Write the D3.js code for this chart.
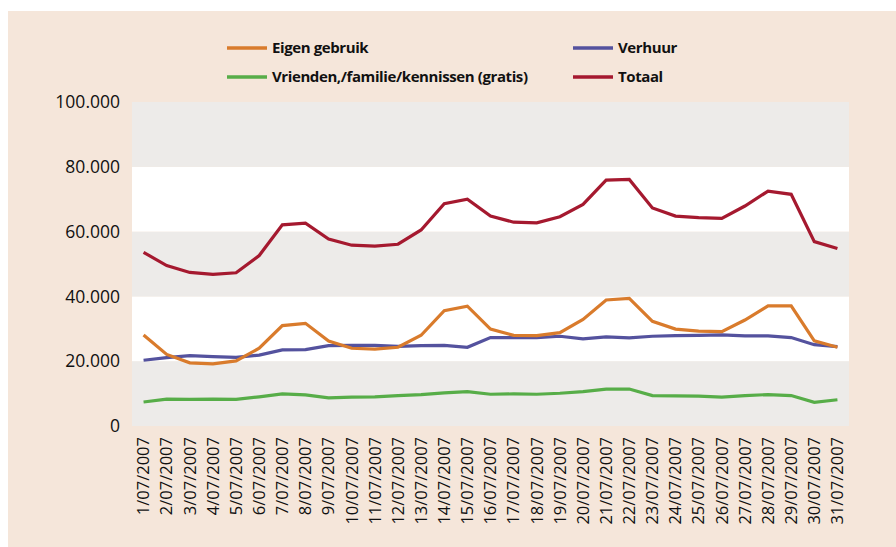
<!DOCTYPE html>
<html>
<head>
<meta charset="utf-8">
<script src="https://cdn.jsdelivr.net/npm/d3@7"></script>
<style>
  body { margin: 0; background: #fff; }
  svg { display: block; }
</style>
</head>
<body>
<div class="graph"></div>
<script>
// dates on the x axis
const dates = [];
for (let d = 1; d <= 31; d++) dates.push(d + "/07/2007");

const yTicks = [0, 20000, 40000, 60000, 80000, 100000];

const eigenGebruik = [28100, 22100, 19500, 19200, 20100, 24000, 31000, 31700, 26200, 24000,
  23700, 24300, 28000, 35600, 37000, 29900, 28000, 27900, 28800, 32900,
  38900, 39400, 32300, 29900, 29300, 29100, 32700, 37100, 37100, 26300, 24300];

const verhuur = [20300, 21100, 21700, 21400, 21200, 21900, 23500, 23600, 24800, 24900,
  24900, 24600, 24800, 24900, 24300, 27300, 27300, 27300, 27700, 26900,
  27500, 27200, 27700, 27900, 28000, 28100, 27800, 27800, 27300, 25100, 24500];

const vrienden = [7400, 8300, 8200, 8300, 8200, 9000, 9900, 9600, 8700, 8900,
  9000, 9400, 9700, 10200, 10600, 9800, 9900, 9800, 10100, 10600,
  11400, 11400, 9400, 9300, 9200, 8900, 9400, 9700, 9400, 7300, 8100];

const totaal = [53600, 49500, 47400, 46800, 47300, 52600, 62100, 62600, 57700, 55800,
  55500, 56100, 60500, 68600, 70000, 64800, 62900, 62700, 64600, 68400,
  75900, 76100, 67300, 64800, 64300, 64100, 67900, 72500, 71500, 56900, 54800];

const series = [
  { name: "Eigen gebruik", values: eigenGebruik, color: "#d97b2c" },
  { name: "Verhuur", values: verhuur, color: "#54529e" },
  { name: "Vrienden,/familie/kennissen (gratis)", values: vrienden, color: "#57ad48" },
  { name: "Totaal", values: totaal, color: "#a5192f" }
];
// draw order: green, blue, orange, red on top
const drawOrder = [2, 1, 0, 3];

const width = 896;
const height = 547;
const plot = { left: 132, right: 849, top: 102, bottom: 426 };

const svg = d3.select(".graph")
  .append("svg")
  .attr("width", width)
  .attr("height", height);

// outer panel
svg.append("rect")
  .attr("x", 8).attr("y", 11)
  .attr("width", width - 8).attr("height", height - 11)
  .attr("fill", "#f5e6da");

const x = d3.scaleBand().domain(dates).range([plot.left, plot.right]);
const y = d3.scaleLinear().domain([0, 100000]).range([plot.bottom, plot.top]);

// alternating bands
const bands = d3.pairs(yTicks);
svg.selectAll(".band")
  .data(bands)
  .enter().append("rect")
  .attr("class", "band")
  .attr("x", plot.left)
  .attr("width", plot.right - plot.left)
  .attr("y", d => y(d[1]))
  .attr("height", d => y(d[0]) - y(d[1]))
  .attr("fill", (d, i) => i % 2 === 0 ? "#edebe9" : "#ffffff");

// y axis
const fmt = v => d3.format(",")(v).replace(/,/g, ".");
const yAxis = svg.append("g")
  .attr("transform", "translate(" + (plot.left - 12) + ",0)")
  .call(d3.axisLeft(y).tickValues(yTicks).tickFormat(fmt).tickSize(0).tickPadding(0));
yAxis.select(".domain").remove();
yAxis.selectAll("text")
  .attr("font-family", "Open Sans")
  .attr("font-size", 17.5)
  .attr("fill", "#111");

// x axis
const xAxis = svg.append("g")
  .attr("transform", "translate(0," + plot.bottom + ")")
  .call(d3.axisBottom(x).tickSize(0).tickPadding(0));
xAxis.select(".domain").remove();
xAxis.selectAll("text")
  .attr("font-family", "Open Sans")
  .attr("font-size", 16.5)
  .attr("fill", "#111")
  .attr("text-anchor", "end")
  .attr("dy", "0.35em")
  .attr("transform", "translate(0,11) rotate(-90)");

// lines
const line = d3.line()
  .x((d, i) => x(dates[i]) + x.bandwidth() / 2)
  .y(d => y(d));

svg.selectAll(".serie")
  .data(drawOrder.map(i => series[i]))
  .enter().append("path")
  .attr("class", "serie")
  .attr("d", d => line(d.values))
  .attr("fill", "none")
  .attr("stroke", d => d.color)
  .attr("stroke-width", 3.2)
  .attr("stroke-linejoin", "miter");

// legend
const legendPos = [
  { x: 227, y: 48 }, { x: 573, y: 48 },
  { x: 227, y: 77 }, { x: 573, y: 77 }
];
const legend = svg.selectAll(".legend")
  .data(series)
  .enter().append("g")
  .attr("class", "legend")
  .attr("transform", (d, i) => "translate(" + legendPos[i].x + "," + legendPos[i].y + ")");

legend.append("line")
  .attr("x1", 0).attr("x2", 40)
  .attr("stroke", d => d.color)
  .attr("stroke-width", 3.5);

legend.append("text")
  .attr("x", 45)
  .attr("dy", "0.35em")
  .attr("font-family", "Open Sans")
  .attr("font-weight", "bold")
  .attr("font-size", 15)
  .attr("letter-spacing", -0.4)
  .attr("fill", "#111")
  .text(d => d.name);
</script>
</body>
</html>
